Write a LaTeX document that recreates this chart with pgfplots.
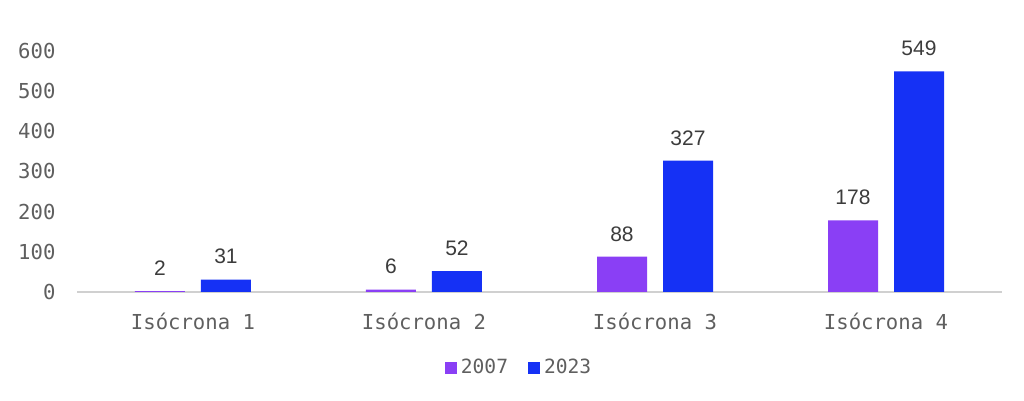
\documentclass[border=0pt]{standalone}
\usepackage{fontspec}
\setmainfont{Liberation Sans}
\setmonofont{DejaVu Sans Mono}
\usepackage{pgfplots}
\pgfplotsset{compat=1.18}
\definecolor{cA}{HTML}{8A3FF5}
\definecolor{cB}{HTML}{1531F5}
\definecolor{tickgrey}{HTML}{5F5F5F}
\definecolor{lblgrey}{HTML}{3C3C3C}
\definecolor{axgrey}{HTML}{D0D0D0}
\begin{document}
\begin{tikzpicture}
\useasboundingbox (-38.75pt,-54.5pt) rectangle (473.25pt,146pt);
\begin{axis}[
  at={(0,0)}, anchor=south west,
  x=115.5pt, y=0.20083pt,
  ybar=8pt, bar width=25pt,
  xmin=-0.5, xmax=3.5, ymin=0, ymax=600,
  clip=false,
  axis x line=bottom, axis y line=left,
  x axis line style={axgrey, line width=0.8pt, -},
  y axis line style={draw=none, -},
  xtick={0,1,2,3},
  xticklabels={Isócrona 1,Isócrona 2,Isócrona 3,Isócrona 4},
  ytick={0,100,200,300,400,500,600},
  major tick length=0pt,
  /pgf/number format/assume math mode=true,
  xticklabel style={font=\ttfamily\fontsize{10.3}{12}\selectfont, text=tickgrey, yshift=-7pt},
  yticklabel style={font=\ttfamily\fontsize{10.3}{12}\selectfont, text=tickgrey, anchor=east, xshift=-7.5pt},
  nodes near coords,
  nodes near coords style={font=\fontsize{10.5}{12}\selectfont, text=lblgrey, anchor=south, inner sep=0pt, yshift=7.5pt},
  legend style={at={(0.479,-0.315)}, anchor=center, draw=none, fill=none,
    font=\ttfamily\fontsize{9.8}{11}\selectfont, text=tickgrey,
    /tikz/every even column/.append style={column sep=8pt}},
  legend columns=2,
  legend image code/.code={\fill[#1] (0pt,-3pt) rectangle (6pt,3pt);},
]
\addplot[fill=cA, draw=none] coordinates {(0,2) (1,6) (2,88) (3,178)};
\addplot[fill=cB, draw=none] coordinates {(0,31) (1,52) (2,327) (3,549)};
\legend{2007,2023}
\end{axis}
\end{tikzpicture}
\end{document}
